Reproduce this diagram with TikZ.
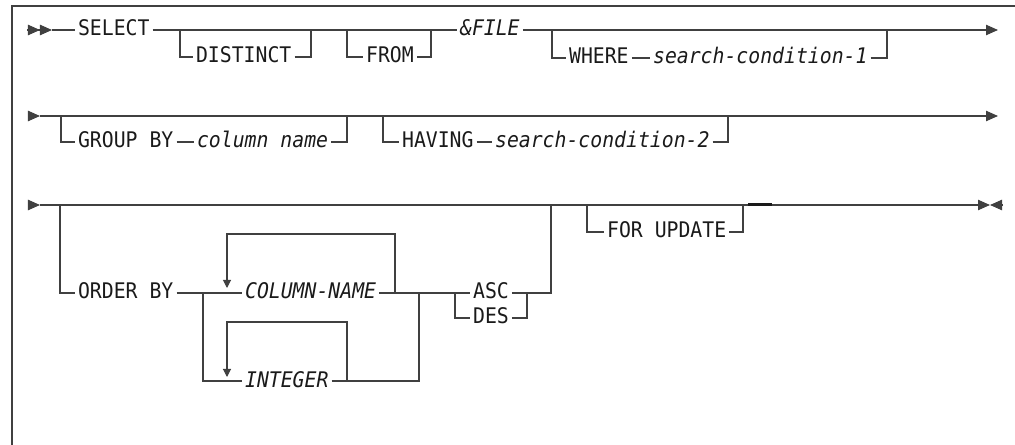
\documentclass[tikz,border=0pt]{standalone}
\usepackage{fontspec}
\setmonofont[FakeStretch=0.92]{DejaVu Sans Mono}
\usetikzlibrary{arrows.meta}
\definecolor{railgray}{HTML}{404040}
\definecolor{inkblack}{HTML}{1A1A1A}

\begin{document}
\begin{tikzpicture}[x=0.025cm, y=-0.025cm,
    rail/.style={railgray, line width=0.75pt},
    kw/.style={font=\fontsize{15.3}{17}\selectfont\ttfamily, text=inkblack, anchor=west,
      inner xsep=0.07cm, inner ysep=0pt, text height=0.45cm, text depth=0.15cm},
    var/.style={kw, font=\fontsize{15.3}{17}\selectfont\ttfamily\itshape},
    bigtip/.style={-{Triangle[length=0.3cm,width=0.26cm]}},
    dbltip/.style={-{Triangle[length=0.3cm,width=0.26cm]Triangle[length=0.3cm,width=0.26cm]}},
    looptip/.style={-{Triangle[length=0.2cm,width=0.2cm]}}]
  \useasboundingbox (0,0) rectangle (1015,445);
  % frame
  \draw[rail] (1015,6) -- (12,6) -- (12,445);

  % first line
  \coordinate (st1) at (27,30);
  \coordinate (s1) at (52,30);
  \node[kw] (select) at (75,30) {SELECT};
  \coordinate (d1) at (180,30);
  \coordinate (d2) at (311,30);
  \node[kw] (distinct) at (193,57) {DISTINCT};
  \coordinate (f1) at (347,30);
  \coordinate (f2) at (431,30);
  \node[kw] (from) at (363,57) {FROM};
  \node[var] (file) at (457,30) {\&FILE};
  \coordinate (w1) at (552,30);
  \coordinate (w2) at (887,30);
  \node[kw] (where) at (566,58) {WHERE};
  \node[var] (cond1) at (650,58) {search-condition-1};
  \coordinate (e1) at (998,30);

  \draw[rail, dbltip] (st1) -- (s1);
  \draw[rail] (s1) -- (select.west);
  \draw[rail] (select.east) -- (file.west);
  \draw[rail, bigtip] (file.east) -- (e1);
  \draw[rail] (d1) |- (distinct.west);
  \draw[rail] (distinct.east) -| (d2);
  \draw[rail] (f1) |- (from.west);
  \draw[rail] (from.east) -| (f2);
  \draw[rail] (w1) |- (where.west);
  \draw[rail] (where.east) -- (cond1.west);
  \draw[rail] (cond1.east) -| (w2);

  % second line
  \coordinate (st2) at (28,116);
  \coordinate (s2) at (40,116);
  \coordinate (e2) at (998,116);
  \coordinate (g1) at (61,116);
  \coordinate (g2) at (347,116);
  \node[kw] (groupby) at (75,142) {GROUP BY};
  \node[var] (colname) at (194,142) {column name};
  \coordinate (h1) at (383,116);
  \coordinate (h2) at (728,116);
  \node[kw] (having) at (399,142) {HAVING};
  \node[var] (cond2) at (492,142) {search-condition-2};

  \draw[rail, bigtip] (st2) -- (s2);
  \draw[rail, bigtip] (s2) -- (e2);
  \draw[rail] (g1) |- (groupby.west);
  \draw[rail] (groupby.east) -- (colname.west);
  \draw[rail] (colname.east) -| (g2);
  \draw[rail] (h1) |- (having.west);
  \draw[rail] (having.east) -- (cond2.west);
  \draw[rail] (cond2.east) -| (h2);

  % third line
  \coordinate (st3) at (28,205);
  \coordinate (s3) at (40,205);
  \coordinate (e3) at (990,205);
  \coordinate (ee3) at (1003,205);
  \coordinate (o1) at (60,205);
  \coordinate (o2) at (551,205);
  \node[kw] (orderby) at (75,293) {ORDER BY};
  \coordinate (j1) at (203,293);
  \coordinate (j1b) at (203,381);
  \node[var] (colnm) at (242,293) {COLUMN-NAME};
  \node[var] (integer) at (242,381) {INTEGER};
  \coordinate (j2) at (419,293);
  \coordinate (j2b) at (419,381);
  \coordinate (cr) at (395,293);
  \coordinate (ct) at (227,234);
  \coordinate (ca) at (227,288);
  \coordinate (ir) at (347,381);
  \coordinate (it) at (227,322);
  \coordinate (ia) at (227,377);
  \coordinate (a1) at (455,293);
  \coordinate (a2) at (527,293);
  \coordinate (a3) at (551,293);
  \node[kw] (asc) at (470,293) {ASC};
  \node[kw] (des) at (470,318) {DES};
  \coordinate (u1) at (587,205);
  \coordinate (u2) at (743,205);
  \node[kw] (forupd) at (604,232) {FOR UPDATE};
  \coordinate (t1) at (748,204.5);
  \coordinate (t2) at (772,204.5);

  \draw[rail, bigtip] (st3) -- (s3);
  \draw[rail, bigtip] (s3) -- (e3);
  \draw[rail, bigtip] (ee3) -- (e3);
  \draw[rail] (o1) |- (orderby.west);
  \draw[rail] (orderby.east) -- (colnm.west);
  \draw[rail] (colnm.east) -- (asc.west);
  \draw[rail] (asc.east) -- (a3) -- (o2);
  \draw[rail, looptip] (cr) |- (ct) -- (ca);
  \draw[rail] (j1) -- (j1b) -- (integer.west);
  \draw[rail] (integer.east) -- (j2b) -- (j2);
  \draw[rail, looptip] (ir) |- (it) -- (ia);
  \draw[rail] (a1) |- (des.west);
  \draw[rail] (des.east) -| (a2);
  \draw[rail] (u1) |- (forupd.west);
  \draw[rail] (forupd.east) -| (u2);
  \draw[inkblack, line width=2pt] (t1) -- (t2);
\end{tikzpicture}
\end{document}
